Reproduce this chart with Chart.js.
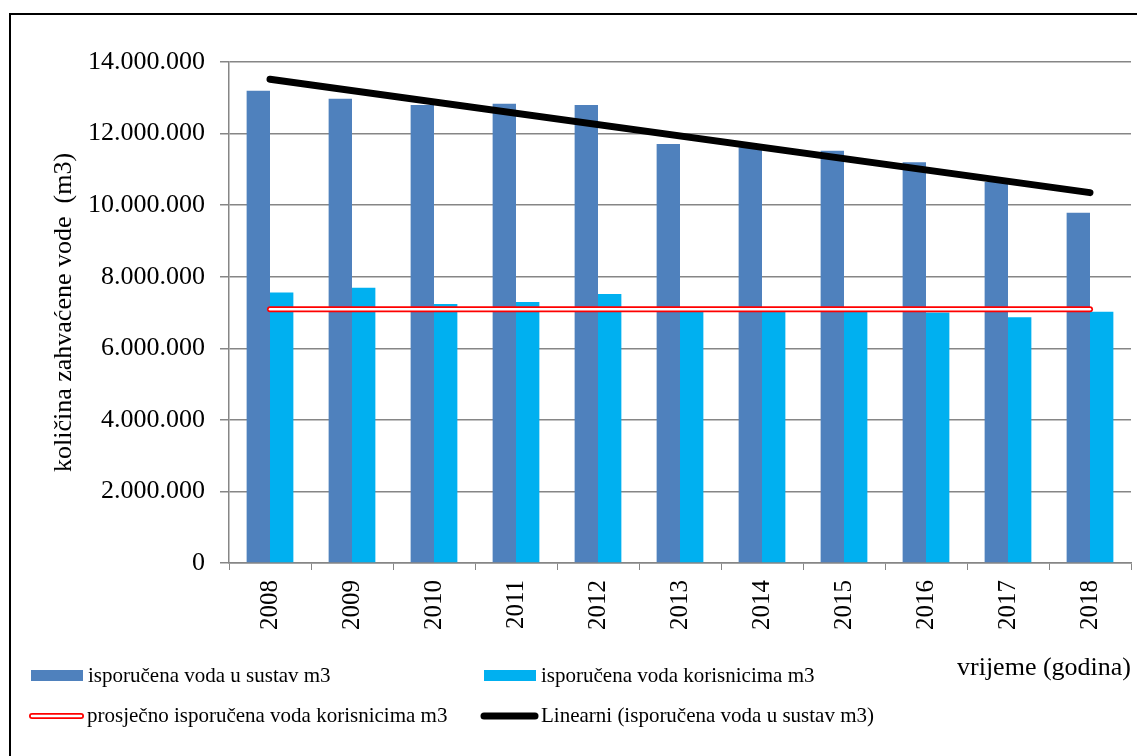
<!DOCTYPE html>
<html>
<head>
<meta charset="utf-8">
<script src="https://cdn.jsdelivr.net/npm/chart.js@4.4.1/dist/chart.umd.min.js"></script>
<style>
  html, body { margin: 0; padding: 0; background: #fff; overflow: hidden; }
  #wrap { width: 1137px; height: 756px; position: relative; }
</style>
</head>
<body>
<div id="wrap"><canvas id="grafikon"></canvas></div>
<script>
// podaci s grafikona
const godine = ['2008', '2009', '2010', '2011', '2012', '2013', '2014', '2015', '2016', '2017', '2018'];
const sustav = [13200000, 12970000, 12800000, 12830000, 12800000, 11710000, 11620000, 11520000, 11200000, 10650000, 9790000];
const korisnici = [7560000, 7690000, 7240000, 7290000, 7520000, 7100000, 7100000, 7050000, 7000000, 6870000, 7020000];
const prosjek = [7090000, 7090000, 7090000, 7090000, 7090000, 7090000, 7090000, 7090000, 7090000, 7090000, 7090000];
// linearni trend - krajnje tocke ocitane s grafikona
const trendGodine = ['2008', '2018'];
const trendVrijednosti = [13520000, 10350000];
const yTicks = [0, 2000000, 4000000, 6000000, 8000000, 10000000, 12000000, 14000000];

const TAMNO = '#4F81BD';
const SVIJETLO = '#00B0F0';
const SIVA = '#868686';
const FONT = '"Liberation Serif", "Times New Roman", serif';

function formatBroj(v) {
    return String(v).replace(/\B(?=(\d{3})+(?!\d))/g, '.');
}

// okvir oko cijelog grafikona
const okvir = {
    id: 'okvir',
    beforeDraw(chart) {
        const ctx = chart.ctx;
        ctx.save();
        ctx.strokeStyle = '#000';
        ctx.lineWidth = 2;
        ctx.strokeRect(10, 14, 1300, 900);
        ctx.restore();
    }
};

// legenda u dva stupca kao u originalu
const legenda = {
    id: 'legenda',
    afterDraw(chart) {
        const ctx = chart.ctx;
        const ds = chart.data.datasets;
        ctx.save();
        ctx.font = '21px ' + FONT;
        ctx.textBaseline = 'middle';
        ctx.textAlign = 'left';
        ctx.fillStyle = '#000';

        // 1. isporucena voda u sustav
        ctx.fillStyle = TAMNO;
        ctx.fillRect(31, 670, 52, 11);
        ctx.fillStyle = '#000';
        ctx.fillText(ds[3].label, 88, 676);

        // 2. isporucena voda korisnicima
        ctx.fillStyle = SVIJETLO;
        ctx.fillRect(484, 670, 52, 11);
        ctx.fillStyle = '#000';
        ctx.fillText(ds[4].label, 541, 676);

        // 3. prosjek - dvostruka crvena linija
        ctx.lineCap = 'round';
        ctx.strokeStyle = '#FF0000';
        ctx.lineWidth = 6;
        ctx.beginPath(); ctx.moveTo(32, 716); ctx.lineTo(81, 716); ctx.stroke();
        ctx.strokeStyle = '#FFFFFF';
        ctx.lineWidth = 2.5;
        ctx.beginPath(); ctx.moveTo(32, 716); ctx.lineTo(81, 716); ctx.stroke();
        ctx.fillText(ds[1].label, 87, 716);

        // 4. linearni trend
        ctx.strokeStyle = '#000';
        ctx.lineWidth = 7;
        ctx.beginPath(); ctx.moveTo(484, 716); ctx.lineTo(535, 716); ctx.stroke();
        ctx.fillText(ds[2].label, 541, 716);
        ctx.restore();
    }
};

const ctx = document.getElementById('grafikon').getContext('2d');
new Chart(ctx, {
    type: 'bar',
    data: {
        labels: godine,
        datasets: [
            {
                type: 'line',
                label: '',
                data: prosjek,
                borderColor: '#FFFFFF',
                borderWidth: 2.5,
                pointRadius: 0,
                borderCapStyle: 'round',
                order: 0
            },
            {
                type: 'line',
                label: 'prosječno isporučena voda korisnicima m3',
                data: prosjek,
                borderColor: '#FF0000',
                borderWidth: 6,
                pointRadius: 0,
                borderCapStyle: 'round',
                order: 1
            },
            {
                type: 'line',
                label: 'Linearni (isporučena voda u sustav m3)',
                data: trendGodine.map((g, i) => ({ x: g, y: trendVrijednosti[i] })),
                borderColor: '#000000',
                borderWidth: 7,
                pointRadius: 0,
                borderCapStyle: 'round',
                order: 2
            },
            {
                label: 'isporučena voda u sustav m3',
                data: sustav,
                backgroundColor: TAMNO,
                categoryPercentage: 0.57,
                barPercentage: 1.0,
                order: 3
            },
            {
                label: 'isporučena voda korisnicima m3',
                data: korisnici,
                backgroundColor: SVIJETLO,
                categoryPercentage: 0.57,
                barPercentage: 1.0,
                order: 3
            }
        ]
    },
    options: {
        responsive: true,
        maintainAspectRatio: false,
        animation: false,
        layout: { padding: { left: 49, right: 6, top: 62, bottom: 72 } },
        plugins: {
            legend: { display: false },
            tooltip: { enabled: false }
        },
        scales: {
            x: {
                offset: true,
                grid: { offset: true, drawOnChartArea: false, drawTicks: true, tickLength: 7, color: SIVA },
                border: { color: SIVA, width: 1.5 },
                ticks: {
                    autoSkip: false,
                    minRotation: 90,
                    maxRotation: 90,
                    padding: 10,
                    color: '#000',
                    font: { family: FONT, size: 25 }
                },
                title: {
                    display: true,
                    text: 'vrijeme (godina)',
                    align: 'end',
                    color: '#000',
                    padding: 0,
                    font: { family: FONT, size: 26 }
                },
                afterFit(scale) { scale.height = 121; }
            },
            y: {
                min: 0,
                max: 14000000,
                afterBuildTicks(scale) { scale.ticks = yTicks.map(v => ({ value: v })); },
                grid: { color: SIVA, lineWidth: 1.5, tickLength: 9 },
                border: { color: SIVA, width: 1.5 },
                ticks: {
                    padding: 15,
                    color: '#000',
                    font: { family: FONT, size: 26 },
                    callback: (v) => formatBroj(v)
                },
                title: {
                    display: true,
                    text: 'količina zahvaćene vode  (m3)',
                    color: '#000',
                    padding: 0,
                    font: { family: FONT, size: 26 }
                },
                afterFit(scale) { scale.width = 180; }
            }
        }
    },
    plugins: [okvir, legenda]
});
</script>
</body>
</html>
